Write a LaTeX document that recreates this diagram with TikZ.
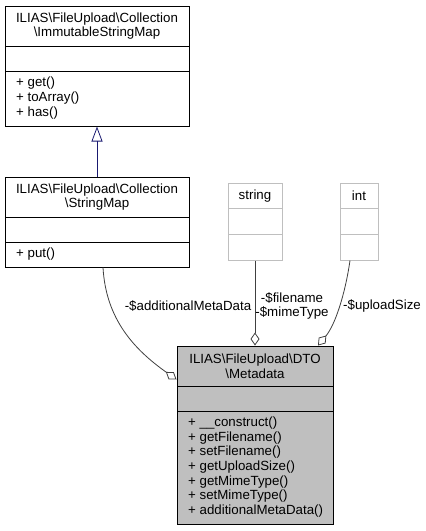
\documentclass[tikz,border=0pt]{standalone}
\usepackage{fontspec}
\setmainfont{Liberation Sans}
\usetikzlibrary{arrows.meta}
\begin{document}
\begin{tikzpicture}[x=1pt,y=-1pt,font=\fontsize{13.3}{14.7}\selectfont,
  box/.style={draw=black,line width=1pt,inner sep=0pt},
  typebox/.style={draw=color1,line width=1pt,inner sep=0pt,minimum width=54pt,minimum height=77pt},
  txt/.style={inner sep=0pt,align=center},
  ops/.style={inner sep=0pt,align=left,anchor=west},
  aggr/.style={draw=color2,line width=0.8pt,-{Diamond[open,length=13pt,width=9pt]}},
  inherit/.style={draw=color3,line width=0.8pt,-{Triangle[open,length=15pt,width=11pt]}}]
\definecolor{color1}{rgb}{0.75,0.75,0.75}
\definecolor{color2}{rgb}{0.25,0.25,0.25}
\definecolor{color3}{rgb}{0.1,0.1,0.44}
\useasboundingbox (0,0) rectangle (426,531);
\coordinate[] (A1) at (5,46);
\coordinate[] (A2) at (189,46);
\coordinate[] (A3) at (5,71);
\coordinate[] (A4) at (189,71);
\coordinate[] (B1) at (5,217);
\coordinate[] (B2) at (189,217);
\coordinate[] (B3) at (5,242);
\coordinate[] (B4) at (189,242);
\coordinate[] (C1) at (228,208);
\coordinate[] (C2) at (282,208);
\coordinate[] (C3) at (228,234);
\coordinate[] (C4) at (282,234);
\coordinate[] (D1) at (340,208);
\coordinate[] (D2) at (378,208);
\coordinate[] (D3) at (340,234);
\coordinate[] (D4) at (378,234);
\coordinate[] (E1) at (177,386);
\coordinate[] (E2) at (333,386);
\coordinate[] (E3) at (177,411);
\coordinate[] (E4) at (333,411);
\node[box,minimum width=184pt,minimum height=120pt] (ismap) at (97,66) {};
\node[box,minimum width=184pt,minimum height=90pt] (smap) at (97,222) {};
\node[typebox] (str) at (255,221.5) {};
\node[typebox,minimum width=38pt] (int) at (359,221.5) {};
\node[box,fill=color1,minimum width=156pt,minimum height=178pt] (meta) at (255,435) {};
\draw[line width=1pt] (A1)--(A2) (A3)--(A4);
\draw[line width=1pt] (B1)--(B2) (B3)--(B4);
\draw[line width=1pt,color1] (C1)--(C2) (C3)--(C4);
\draw[line width=1pt,color1] (D1)--(D2) (D3)--(D4);
\draw[line width=1pt] (E1)--(E2) (E3)--(E4);
\node[txt] (ismapname) at (97,26) {ILIAS\textbackslash FileUpload\textbackslash Collection\\\textbackslash ImmutableStringMap};
\node[ops] (ismapops) at (16,98) {+ get()\\+ toArray()\\+ has()};
\node[txt] (smapname) at (97,197) {ILIAS\textbackslash FileUpload\textbackslash Collection\\\textbackslash StringMap};
\node[ops] (smapops) at (16,254) {+ put()};
\node[txt] (strname) at (255,196) {string};
\node[txt] (intname) at (359,196) {int};
\node[txt] (metaname) at (255,366) {ILIAS\textbackslash FileUpload\textbackslash DTO\\\textbackslash Metadata};
\node[ops] (metaops) at (188,467) {+ \_\_construct()\\+ getFilename()\\+ setFilename()\\+ getUploadSize()\\+ getMimeType()\\+ setMimeType()\\+ additionalMetaData()};
\draw[inherit] (smap.north) -- (ismap.south);
\draw[aggr] ([xshift=6pt]smap.south) .. controls (106,320) and (135,350) .. ([yshift=-34pt]meta.north west);
\draw[aggr] (str) -- (meta);
\draw[aggr] ([xshift=-9pt]int.south) .. controls (345,295) and (335,325) .. ([xshift=63pt]meta.north);
\node[txt] (addlabel) at (188,306) {-\$additionalMetaData};
\node[txt] (strlabel) at (292,306) {-\$filename\\-\$mimeType};
\node[txt] (intlabel) at (382,306) {-\$uploadSize};
\end{tikzpicture}
\end{document}
